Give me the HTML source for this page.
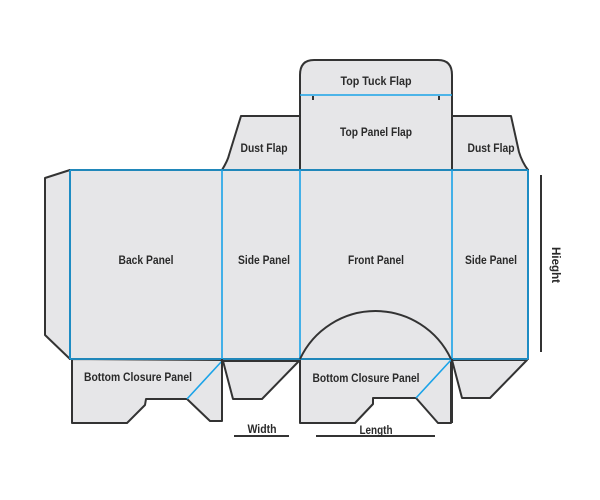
<!DOCTYPE html>
<html><head><style>body{margin:0;background:#fff}svg{display:block}text{font-family:"Liberation Sans",sans-serif;font-weight:bold;font-size:12px;fill:#2a2a2a;text-anchor:middle}</style></head><body>
<svg width="600" height="500" viewBox="0 0 600 500">
<g fill="#e6e6e8" stroke="#333" stroke-width="2" stroke-linejoin="round">
<path d="M70,170 L45,178 L45,335 L70,359 Z"/>
<rect x="70" y="170" width="458" height="189"/>
<path d="M300,170 L300,75 Q300,60 314,60 L438,60 Q452,60 452,75 L452,170 Z"/>
<path d="M222,170 Q228,160 229,155 L241,116 L300,116 L300,170 Z"/>
<path d="M452,170 L452,116 L511,116 L519,152 Q522,162 528,170 Z"/>
<path d="M72,359 L72,423 L127,423 L145,405 L146,399 L187,399 L210,421 L222,421 L222,360 Z"/>
<path d="M223,361 L233,399 L262,399 L299,361 Z"/>
<path d="M300,359 L300,423 L355,423 L373,404 L373,398 L416,398 L438,423 L451,423 L451,359 Z"/>
<path d="M452,360 L462,398 L490,398 L527,360 Z"/>
</g>
<g stroke="#1aa3e8" stroke-width="1.6" fill="none">
<line x1="70" y1="170" x2="528" y2="170"/>
<line x1="70" y1="359" x2="528" y2="359"/>
<line x1="70" y1="170" x2="70" y2="359"/>
<line x1="222" y1="170" x2="222" y2="359"/>
<line x1="300" y1="170" x2="300" y2="359"/>
<line x1="452" y1="170" x2="452" y2="359"/>
<line x1="528" y1="170" x2="528" y2="359"/>
<line x1="300" y1="95" x2="452" y2="95"/>
<line x1="187" y1="399" x2="222" y2="361"/>
<line x1="416" y1="398" x2="451" y2="360"/>
</g>
<g stroke="#333" stroke-width="2" fill="none">
<path d="M300,359 A83.4,83.4 0 0 1 451,359"/>
<line x1="313" y1="96" x2="313" y2="100"/>
<line x1="439" y1="96" x2="439" y2="100"/>
<line x1="541" y1="175" x2="541" y2="352"/>
<line x1="234" y1="436" x2="289" y2="436"/>
<line x1="316" y1="436" x2="435" y2="436"/>
<line x1="222" y1="359" x2="222" y2="421"/>
<line x1="452" y1="359" x2="452" y2="423"/>
</g>
<g lengthAdjust="spacingAndGlyphs">
<text x="376" y="85" textLength="71" lengthAdjust="spacingAndGlyphs">Top Tuck Flap</text>
<text x="376" y="136" textLength="72" lengthAdjust="spacingAndGlyphs">Top Panel Flap</text>
<text x="264" y="152" textLength="47" lengthAdjust="spacingAndGlyphs">Dust Flap</text>
<text x="491" y="152" textLength="47" lengthAdjust="spacingAndGlyphs">Dust Flap</text>
<text x="146" y="264" textLength="55" lengthAdjust="spacingAndGlyphs">Back Panel</text>
<text x="264" y="264" textLength="52" lengthAdjust="spacingAndGlyphs">Side Panel</text>
<text x="376" y="264" textLength="56" lengthAdjust="spacingAndGlyphs">Front Panel</text>
<text x="491" y="264" textLength="52" lengthAdjust="spacingAndGlyphs">Side Panel</text>
<text x="138" y="381" textLength="108" lengthAdjust="spacingAndGlyphs">Bottom Closure Panel</text>
<text x="366" y="382" textLength="107" lengthAdjust="spacingAndGlyphs">Bottom Closure Panel</text>
<text x="262" y="433" textLength="29" lengthAdjust="spacingAndGlyphs">Width</text>
<text x="376" y="434" textLength="33" lengthAdjust="spacingAndGlyphs">Length</text>
<text x="0" y="0" transform="translate(552,265) rotate(90)" textLength="36" lengthAdjust="spacingAndGlyphs">Hieght</text>
</g>
</svg>
</body></html>
